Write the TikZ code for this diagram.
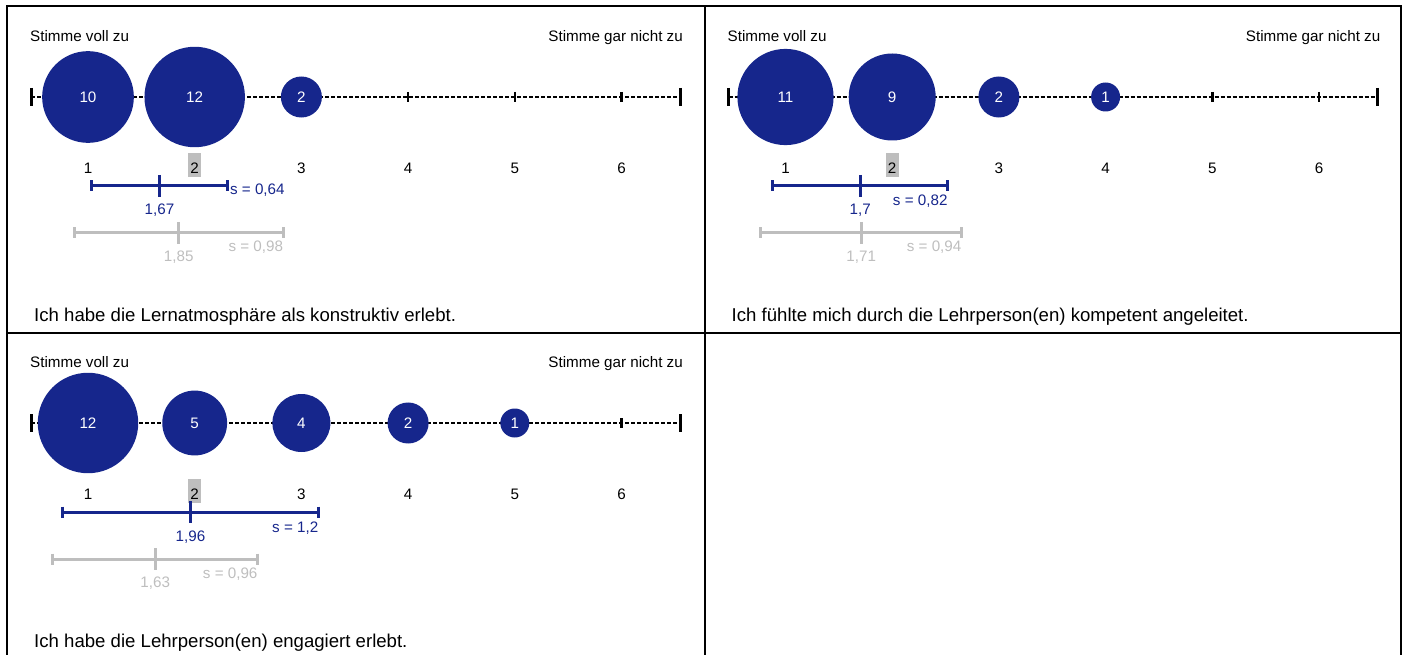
\documentclass[tikz,border=0pt]{standalone}
\usepackage{fontspec}
\setmainfont{Liberation Sans}
\usetikzlibrary{calc}
\definecolor{dunkelblau}{RGB}{22,38,140}
\definecolor{hellgrau}{RGB}{190,190,190}
\tikzset{every node/.append style = {inner sep=0pt, font=\fontsize{15.2}{18}\selectfont}}
\tikzset{rahmen/.style = {line width=2pt, black}, achse/.style = {line width=2.5pt, dash pattern=on 4pt off 2pt},
  strich/.style = {line width=2.5pt}, kappe/.style = {line width=3pt},
  blase/.style = {circle, fill=dunkelblau, text=white},
  mwblau/.style = {line width=3pt, dunkelblau}, mwgrau/.style = {line width=3pt, hellgrau},
  titel/.style = {anchor=base west, font=\fontsize{18.6}{22}\selectfont}}
\newcommand{\streuung}[4]{%
  \draw[#4] ({#1-#2},#3) -- ({#1+#2},#3);
  \draw[#4] ({#1-#2},{#3-5.5}) -- ({#1-#2},{#3+5.5});
  \draw[#4] ({#1+#2},{#3-5.5}) -- ({#1+#2},{#3+5.5});
  \draw[#4] (#1,{#3-11}) -- (#1,{#3+11});}

\begin{document}
\begin{tikzpicture}[x=1pt, y=-1pt]
\useasboundingbox (0,0) rectangle (1406,655);
\draw[rahmen] (7,655) -- (7,6) -- (1401,6) -- (1401,655);
\draw[rahmen] (7,333) -- (1401,333);
\draw[rahmen] (704.5,6) -- (704.5,655);
\foreach \ox/\oy/\p in {0/0/a, 697.5/0/b, 0/326/c}{
\begin{scope}[shift={(\ox,\oy)}]
\node[anchor=base west] (voll\p) at (30,41.7) {Stimme voll zu};
\node[anchor=base east] (garnicht\p) at (683,41.7) {Stimme gar nicht zu};
\draw[achse] (31,97) -- (680,97);
\draw[kappe] (31,88) -- (31,106);
\draw[kappe] (680,88) -- (680,106);
\begin{scope}[x=106.7pt, xshift=-18.7pt]
\node[fill=hellgrau, minimum width=13pt, minimum height=24pt] (markierung\p) at (2,165) {};
\foreach \w in {1,...,6}{
\draw[strich] (\w,92) -- (\w,102);
\node[anchor=base] (wert\p\w) at (\w,173.3) {\w};
}
\end{scope}
\end{scope}
}

\begin{scope}[x=106.7pt, xshift=-18.7pt]
\foreach \w/\n in {1/10, 2/12, 3/2}
  \node[blase, minimum size={29pt*sqrt(\n)}] (kreisa\w) at (\w,97) {\n};
\streuung{1.67}{0.64}{186}{mwblau}
\streuung{1.85}{0.98}{233}{mwgrau}
\node[anchor=base, text=dunkelblau] (mwa) at (1.67,214.5) {1,67};
\node[anchor=base west, text=dunkelblau] (sa) at (2.33,194.7) {s = 0,64};
\node[anchor=base, text=hellgrau] (mwgraua) at (1.85,261.5) {1,85};
\node[anchor=base east, text=hellgrau] (sgraua) at (2.83,252) {s = 0,98};
\end{scope}
\node[titel] (titela) at (34,321.5) {Ich habe die Lernatmosphäre als konstruktiv erlebt.};

\begin{scope}[x=106.7pt, xshift=678.8pt]
\foreach \w/\n in {1/11, 2/9, 3/2, 4/1}
  \node[blase, minimum size={29pt*sqrt(\n)}] (kreisb\w) at (\w,97) {\n};
\streuung{1.7}{0.82}{186}{mwblau}
\streuung{1.71}{0.94}{233}{mwgrau}
\node[anchor=base, text=dunkelblau] (mwb) at (1.7,214.5) {1,7};
\node[anchor=base east, text=dunkelblau] (sb) at (2.52,205.7) {s = 0,82};
\node[anchor=base, text=hellgrau] (mwgraub) at (1.71,261.5) {1,71};
\node[anchor=base east, text=hellgrau] (sgraub) at (2.65,252) {s = 0,94};
\end{scope}
\node[titel] (titelb) at (731.5,321.5) {Ich fühlte mich durch die Lehrperson(en) kompetent angeleitet.};

\begin{scope}[x=106.7pt, xshift=-18.7pt, yshift=-326pt]
\foreach \w/\n in {1/12, 2/5, 3/4, 4/2, 5/1}
  \node[blase, minimum size={29pt*sqrt(\n)}] (kreisc\w) at (\w,97) {\n};
\streuung{1.96}{1.2}{186}{mwblau}
\streuung{1.63}{0.96}{233}{mwgrau}
\node[anchor=base, text=dunkelblau] (mwc) at (1.96,215) {1,96};
\node[anchor=base east, text=dunkelblau] (sc) at (3.16,206.3) {s = 1,2};
\node[anchor=base, text=hellgrau] (mwgrauc) at (1.63,261.5) {1,63};
\node[anchor=base east, text=hellgrau] (sgrauc) at (2.59,252) {s = 0,96};
\end{scope}
\node[titel] (titelc) at (34,647.5) {Ich habe die Lehrperson(en) engagiert erlebt.};
\end{tikzpicture}
\end{document}
